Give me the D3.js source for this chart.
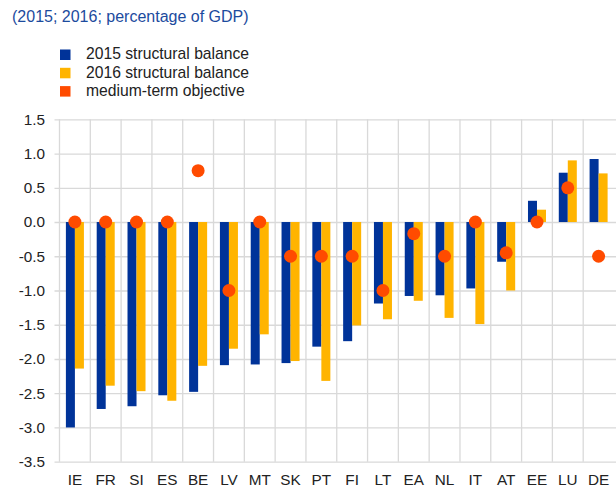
<!DOCTYPE html>
<html>
<head>
<meta charset="utf-8">
<script src="https://cdn.jsdelivr.net/npm/d3@7"></script>
<style>
  html, body { margin: 0; padding: 0; background: #fff; }
  svg text { font-family: "Liberation Sans", Arial, sans-serif; }
</style>
</head>
<body>
<svg id="chart" width="616" height="492"></svg>
<script>
const categories = ["IE","FR","SI","ES","BE","LV","MT","SK","PT","FI","LT","EA","NL","IT","AT","EE","LU","DE"];
const balance2015 = [-3.0,-2.73,-2.69,-2.53,-2.48,-2.09,-2.08,-2.06,-1.82,-1.74,-1.19,-1.08,-1.07,-0.97,-0.58,0.31,0.72,0.92];
const balance2016 = [-2.14,-2.39,-2.47,-2.61,-2.10,-1.85,-1.64,-2.03,-2.32,-1.51,-1.42,-1.15,-1.40,-1.49,-1.00,0.18,0.90,0.71];
const mto = [0,0,0,0,0.75,-1.0,0,-0.5,-0.5,-0.5,-1.0,-0.17,-0.5,0,-0.45,0,0.5,-0.5];
const yTicks = [1.5,1.0,0.5,0.0,-0.5,-1.0,-1.5,-2.0,-2.5,-3.0,-3.5];
const seriesNames = ["2015 structural balance","2016 structural balance","medium-term objective"];
const colors = ["#003399","#ffb400","#ff4b00"];
const title = "(2015; 2016; percentage of GDP)";

const svg = d3.select("#chart");
const pLeft = 59.5, pRight = 614, pTop = 119.3, pBottom = 461.7;

const x = d3.scaleBand().domain(categories).range([pLeft, pRight]).padding(0);
const x1 = d3.scaleBand().domain(["2015","2016"]).range([0, x.bandwidth()]).paddingInner(0).paddingOuter(0.71);
const y = d3.scaleLinear().domain([-3.5, 1.5]).range([pBottom, pTop]);

// title
svg.append("text").attr("x", 12).attr("y", 22).attr("fill", "#1c4b9e")
  .attr("font-size", 16).text(title);

// legend
const lg = svg.append("g");
seriesNames.forEach((n, i) => {
  const yy = 49.5 + i * 18.3;
  lg.append("rect").attr("x", 60).attr("y", yy).attr("width", 10.5).attr("height", 10.5).attr("fill", colors[i]);
  lg.append("text").attr("x", 86).attr("y", yy + 9.8).attr("font-size", 15.7).attr("fill", "#222").text(n);
});

// horizontal grid + y axis
const yAxis = d3.axisLeft(y).tickValues(yTicks).tickFormat(d3.format(".1f")).tickSize(-(pRight + 2 - pLeft)).tickPadding(15);
const yg = svg.append("g").attr("transform", `translate(${pLeft},0)`).call(yAxis);
yg.select(".domain").remove();
yg.selectAll(".tick line").attr("stroke", "#d9d9d9").attr("stroke-width", 1.3).attr("x1", -5);
yg.selectAll(".tick text").attr("font-size", 15.3).attr("fill", "#222").attr("x", -14.5)
  .text(d => d3.format(".1f")(d).replace("−", "-"));

// vertical grid lines at band boundaries
svg.append("g").selectAll("line").data(categories).join("line")
  .attr("x1", d => x(d)).attr("x2", d => x(d))
  .attr("y1", pTop).attr("y2", pBottom)
  .attr("stroke", "#d9d9d9").attr("stroke-width", 1.3);

// bars
const groups = svg.append("g").selectAll("g").data(categories).join("g")
  .attr("transform", d => `translate(${x(d)},0)`);
groups.append("rect")
  .attr("x", x1("2015")).attr("width", x1.bandwidth())
  .attr("y", (d, i) => y(Math.max(0, balance2015[i])))
  .attr("height", (d, i) => Math.abs(y(balance2015[i]) - y(0)))
  .attr("fill", colors[0]);
groups.append("rect")
  .attr("x", x1("2016")).attr("width", x1.bandwidth())
  .attr("y", (d, i) => y(Math.max(0, balance2016[i])))
  .attr("height", (d, i) => Math.abs(y(balance2016[i]) - y(0)))
  .attr("fill", colors[1]);

// dots
svg.append("g").selectAll("circle").data(categories).join("circle")
  .attr("cx", d => x(d) + x.bandwidth() / 2)
  .attr("cy", (d, i) => y(mto[i]))
  .attr("r", 6.5)
  .attr("fill", colors[2]);

// x labels
const xAxis = d3.axisBottom(x).tickSize(0).tickPadding(0);
const xg = svg.append("g").attr("transform", `translate(0,${pBottom})`).call(xAxis);
xg.select(".domain").remove();
xg.selectAll(".tick text").attr("font-size", 15.3).attr("fill", "#222").attr("dy", null).attr("y", 23.5);
</script>
</body>
</html>
